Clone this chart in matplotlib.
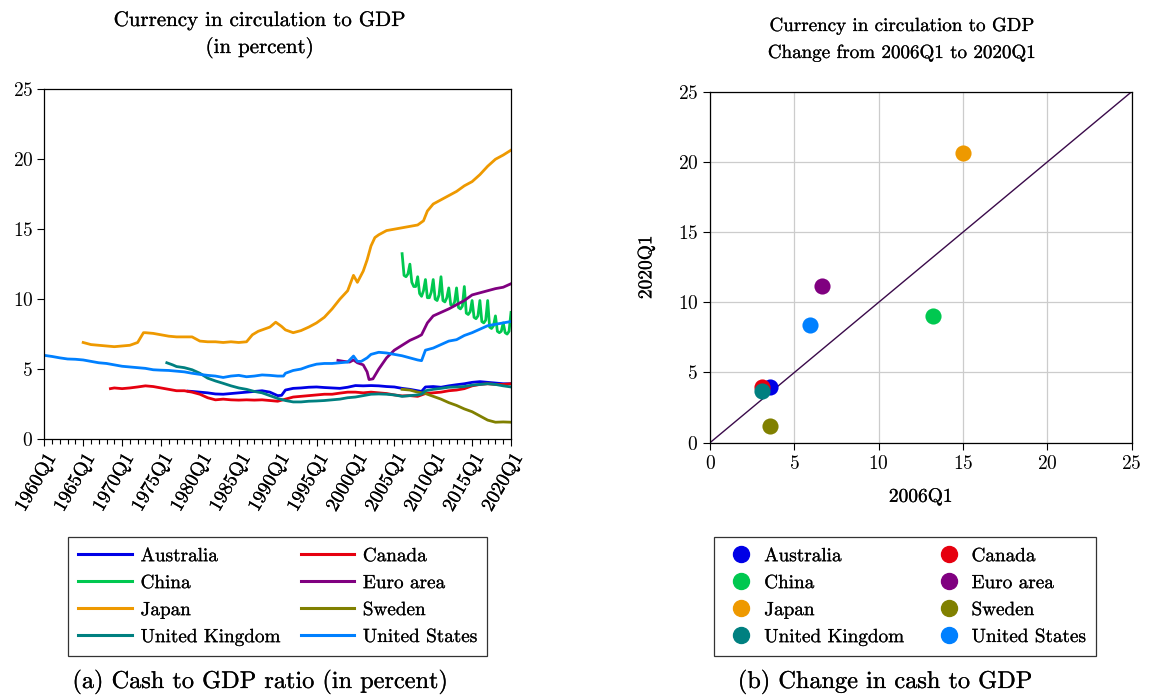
import matplotlib
matplotlib.use("Agg")
import matplotlib.pyplot as plt
from matplotlib.lines import Line2D
import matplotlib.patheffects as pe
import numpy as np

plt.rcParams['font.family'] = ['cmr10', 'DejaVu Serif']
plt.rcParams['mathtext.fontset'] = 'cm'
plt.rcParams['axes.formatter.use_mathtext'] = True
plt.rcParams['axes.unicode_minus'] = False

# ---------------- data ----------------
countries = ["Australia", "Canada", "China", "Euro area", "Japan", "Sweden",
             "United Kingdom", "United States"]
colors = ["#0000E6", "#E6000F", "#00C850", "#800080", "#EE9900", "#808000",
          "#008080", "#0080FF"]

aus_t = [1978.5, 1979, 1980, 1981, 1982, 1983, 1984, 1985, 1986, 1987, 1988, 1989, 1990,
         1990.5, 1991, 1992, 1993, 1994, 1995, 1996, 1997, 1998, 1999, 2000, 2001, 2002,
         2003, 2004, 2005, 2006, 2007, 2008, 2008.5, 2009, 2010, 2011, 2012, 2013, 2014,
         2015, 2016, 2017, 2018, 2019, 2020]
aus_v = [3.42, 3.4, 3.35, 3.3, 3.22, 3.2, 3.25, 3.3, 3.35, 3.4, 3.45, 3.35, 3.1,
         3.12, 3.5, 3.62, 3.65, 3.7, 3.72, 3.68, 3.65, 3.62, 3.7, 3.82, 3.8, 3.82,
         3.8, 3.75, 3.72, 3.62, 3.55, 3.45, 3.4, 3.72, 3.75, 3.7, 3.8, 3.88, 3.95,
         4.05, 4.1, 4.05, 4.0, 3.95, 3.95]

can_t = [1968.5, 1969, 1970, 1971, 1972, 1973, 1974, 1975, 1976, 1977, 1978, 1979, 1980,
         1981, 1982, 1983, 1984, 1985, 1986, 1987, 1988, 1989, 1990, 1991, 1992, 1993,
         1994, 1995, 1996, 1997, 1998, 1999, 2000, 2001, 2002, 2003, 2004, 2005, 2006,
         2007, 2008, 2009, 2010, 2011, 2012, 2013, 2014, 2015, 2016, 2017, 2018, 2019, 2020]
can_v = [3.6, 3.65, 3.6, 3.65, 3.72, 3.8, 3.75, 3.65, 3.55, 3.45, 3.45, 3.35, 3.2,
         2.95, 2.8, 2.85, 2.8, 2.78, 2.8, 2.78, 2.8, 2.75, 2.7, 2.85, 3.0, 3.05,
         3.1, 3.15, 3.2, 3.2, 3.28, 3.35, 3.35, 3.3, 3.35, 3.3, 3.25, 3.15, 3.08,
         3.1, 3.05, 3.25, 3.3, 3.35, 3.45, 3.5, 3.6, 3.8, 3.9, 3.95, 3.9, 3.9, 3.95]

chn_t = [2006.0, 2006.25, 2006.5, 2006.75, 2007.0, 2007.25, 2007.5, 2007.75,
         2008.0, 2008.25, 2008.5, 2008.75, 2009.0, 2009.25, 2009.5, 2009.75,
         2010.0, 2010.25, 2010.5, 2010.75, 2011.0, 2011.25, 2011.5, 2011.75,
         2012.0, 2012.25, 2012.5, 2012.75, 2013.0, 2013.25, 2013.5, 2013.75,
         2014.0, 2014.25, 2014.5, 2014.75, 2015.0, 2015.25, 2015.5, 2015.75,
         2016.0, 2016.25, 2016.5, 2016.75, 2017.0, 2017.25, 2017.5, 2017.75,
         2018.0, 2018.25, 2018.5, 2018.75, 2019.0, 2019.25, 2019.5, 2019.75, 2020.0]
chn_v = [13.25, 11.7, 11.6, 11.8, 12.5, 11.2, 10.9, 10.9,
         11.6, 10.4, 10.2, 10.6, 11.4, 10.1, 10.1, 10.5,
         11.4, 10.0, 9.9, 10.3, 11.6, 9.9, 9.8, 10.1,
         10.8, 9.6, 9.5, 9.8, 10.8, 9.4, 9.3, 9.5,
         10.9, 9.0, 8.9, 9.1, 9.9, 8.7, 8.6, 8.8,
         9.9, 8.4, 8.3, 8.5, 9.9, 8.0, 7.9, 8.1,
         8.8, 7.7, 7.6, 7.7, 8.3, 7.6, 7.5, 7.7, 9.05]

eur_t = [1997.75, 1998.5, 1999.25, 1999.75, 2000.25, 2001, 2001.5, 2001.75, 2002.25,
         2003, 2004, 2005, 2006, 2007, 2008, 2008.5, 2009.25, 2010, 2011, 2012, 2013,
         2014, 2015, 2016, 2017, 2018, 2019, 2020]
eur_v = [5.62, 5.55, 5.5, 5.65, 5.45, 5.3, 4.8, 4.25, 4.3,
         5.0, 5.8, 6.35, 6.7, 7.05, 7.3, 7.45, 8.3, 8.8, 9.05, 9.3, 9.6,
         9.9, 10.3, 10.45, 10.6, 10.75, 10.85, 11.1]

jpn_t = [1965, 1966, 1967, 1968, 1969, 1970, 1971, 1972, 1972.75, 1973, 1974, 1975,
         1976, 1977, 1978, 1979, 1980, 1981, 1982, 1983, 1984, 1985, 1986, 1986.75,
         1987.5, 1988, 1989, 1989.75, 1990.5, 1991, 1992, 1993, 1994, 1995, 1996, 1997,
         1998, 1999, 1999.75, 2000.25, 2001, 2001.5, 2002, 2002.5, 2003, 2004, 2005,
         2006, 2007, 2008, 2008.75, 2009.25, 2010, 2011, 2012, 2013, 2014, 2015, 2016,
         2017, 2018, 2019, 2020]
jpn_v = [6.9, 6.75, 6.7, 6.65, 6.6, 6.65, 6.7, 6.9, 7.6, 7.6, 7.55, 7.45,
         7.35, 7.3, 7.3, 7.3, 7.0, 6.95, 6.95, 6.9, 6.95, 6.9, 6.95, 7.45,
         7.7, 7.8, 8.0, 8.35, 8.05, 7.8, 7.6, 7.75, 8.0, 8.3, 8.7, 9.3,
         10.0, 10.6, 11.7, 11.2, 12.0, 12.8, 13.8, 14.4, 14.6, 14.9, 15.0,
         15.1, 15.2, 15.3, 15.6, 16.3, 16.8, 17.1, 17.4, 17.7, 18.1, 18.4, 18.9,
         19.5, 20.0, 20.3, 20.65]

swe_t = [2006, 2007, 2008, 2009, 2010, 2011, 2012, 2013, 2014, 2015, 2016, 2017,
         2018, 2019, 2020]
swe_v = [3.55, 3.5, 3.35, 3.25, 3.05, 2.85, 2.6, 2.4, 2.15, 1.95, 1.65, 1.35,
         1.2, 1.22, 1.2]

gbr_t = [1975.75, 1976.5, 1977, 1978, 1979, 1980, 1981, 1982, 1983, 1984, 1985, 1986,
         1987, 1988, 1989, 1990, 1991, 1992, 1993, 1994, 1995, 1996, 1997, 1998, 1999,
         2000, 2001, 2002, 2003, 2004, 2005, 2006, 2007, 2008, 2008.5, 2009, 2010, 2011,
         2012, 2013, 2014, 2015, 2016, 2017, 2018, 2019, 2020]
gbr_v = [5.45, 5.3, 5.18, 5.1, 4.95, 4.7, 4.35, 4.15, 3.98, 3.8, 3.65, 3.55,
         3.4, 3.3, 3.1, 2.9, 2.75, 2.65, 2.65, 2.7, 2.72, 2.75, 2.8, 2.85, 2.95,
         3.0, 3.1, 3.2, 3.22, 3.2, 3.15, 3.05, 3.1, 3.15, 3.2, 3.45, 3.55, 3.62,
         3.7, 3.72, 3.75, 3.85, 3.9, 3.95, 3.9, 3.8, 3.72]

usa_t = [1960, 1961, 1962, 1963, 1964, 1965, 1966, 1967, 1968, 1969, 1970, 1971, 1972,
         1973, 1974, 1975, 1976, 1977, 1978, 1979, 1980, 1981, 1982, 1983, 1984, 1985,
         1986, 1987, 1988, 1989, 1990, 1990.75, 1991, 1992, 1993, 1994, 1995, 1996,
         1997, 1998, 1999, 1999.75, 2000.25, 2000.75, 2001.5, 2002, 2003, 2004, 2005,
         2006, 2007, 2008, 2008.5, 2009, 2010, 2011, 2012, 2013, 2014, 2015, 2016,
         2017, 2018, 2019, 2020]
usa_v = [5.98, 5.9, 5.8, 5.72, 5.7, 5.65, 5.55, 5.45, 5.4, 5.3, 5.2, 5.15, 5.1,
         5.05, 4.95, 4.92, 4.9, 4.85, 4.8, 4.7, 4.62, 4.55, 4.5, 4.4, 4.5, 4.55,
         4.45, 4.5, 4.58, 4.55, 4.5, 4.5, 4.7, 4.9, 5.0, 5.2, 5.35, 5.4,
         5.4, 5.45, 5.5, 5.93, 5.55, 5.55, 5.8, 6.05, 6.2, 6.15, 6.05,
         5.95, 5.8, 5.65, 5.6, 6.35, 6.5, 6.75, 7.0, 7.1, 7.4, 7.6, 7.85,
         8.1, 8.2, 8.3, 8.4]

series_t = [aus_t, can_t, chn_t, eur_t, jpn_t, swe_t, gbr_t, usa_t]
series_v = [aus_v, can_v, chn_v, eur_v, jpn_v, swe_v, gbr_v, usa_v]

# scatter: 2006Q1 vs 2020Q1
val_2006 = [3.56, 3.06, 13.24, 6.66, 15.02, 3.54, 3.06, 5.93]
val_2020 = [3.99, 3.98, 9.05, 11.13, 20.65, 1.21, 3.70, 8.40]

major_years = list(range(1960, 2021, 5))
major_labels = [f"{y}Q1" for y in major_years]
minor_years = list(range(1960, 2021, 1))

# ---------------- figure ----------------
W, H = 1149, 698
fig = plt.figure(figsize=(W / 100, H / 100), dpi=100)

def fx(px):
    return px / W

def fy(py):
    return 1 - py / H

ax1 = fig.add_axes([fx(44.3), fy(439), fx(511 - 44.3), (439 - 89.3) / H])
ax2 = fig.add_axes([fx(710), fy(442.7), fx(1131.7 - 710), (442.7 - 91.7) / H])

tick_fs = 14
for t, v, c, n in zip(series_t, series_v, colors, countries):
    ax1.plot(t, v, color=c, lw=2.0, label=n, solid_joinstyle='round')
ax1.set_xlim(1960, 2020)
ax1.set_ylim(0, 25)
ax1.set_yticks([0, 5, 10, 15, 20, 25])
ax1.set_xticks(major_years)
ax1.set_xticklabels(major_labels, rotation=60, ha='right', rotation_mode='anchor')
ax1.set_xticks(minor_years, minor=True)
ax1.tick_params(axis='both', which='major', labelsize=tick_fs, direction='out',
                length=5, width=0.8, pad=3)
ax1.tick_params(axis='x', which='minor', direction='out', length=3.5, width=0.8)
for s in ax1.spines.values():
    s.set_linewidth(0.9)

# scatter panel
ax2.plot([0, 25], [0, 25], color="#3A0A4A", lw=1.0, zorder=2)
for x, y, c in zip(val_2006, val_2020, colors):
    ax2.scatter(x, y, s=135, color=c, zorder=3, linewidths=0)
ax2.set_xlim(0, 25)
ax2.set_ylim(0, 25)
ax2.set_xticks([0, 5, 10, 15, 20, 25])
ax2.set_yticks([0, 5, 10, 15, 20, 25])
ax2.grid(True, color="#CCCCCC", lw=0.9)
ax2.set_axisbelow(True)
ax2.tick_params(axis='both', labelsize=tick_fs, direction='out', length=5, width=0.8)
for s in ax2.spines.values():
    s.set_linewidth(0.9)
ax2.set_xlabel("2006Q1", fontsize=tick_fs, labelpad=11)
ax2.set_ylabel("2020Q1", fontsize=tick_fs, labelpad=16)

# titles
fig.text(fx(259.5), fy(26), "Currency in circulation to GDP", ha='center',
         va='baseline', fontsize=15.1)
fig.text(fx(259.5), fy(53), "(in percent)", ha='center', va='baseline', fontsize=15.1)
fig.text(fx(902), fy(31), "Currency in circulation to GDP", ha='center',
         va='baseline', fontsize=13.7)
fig.text(fx(902), fy(58), "Change from 2006Q1 to 2020Q1", ha='center',
         va='baseline', fontsize=13.7)

# legends (row-major order)
order = [0, 2, 4, 6, 1, 3, 5, 7]
line_handles = [Line2D([], [], color=colors[i], lw=2.2) for i in order]
dot_handles = [Line2D([], [], color=colors[i], marker='o', ls='none', markersize=11.5)
               for i in order]
labels = [countries[i] for i in order]

leg_kw = dict(ncol=2, loc='upper left', mode='expand', fontsize=13.8, frameon=True,
              fancybox=False, edgecolor='black', borderaxespad=0, labelspacing=0.47,
              borderpad=0.52, columnspacing=1.0)
l1 = fig.legend(line_handles, labels,
                bbox_to_anchor=(fx(68.3), fy(652.7), fx(487.3 - 68.3), (652.7 - 537.3) / H),
                handlelength=2.8, handletextpad=0.45, **leg_kw)
l1.get_frame().set_linewidth(0.9)
l2 = fig.legend(dot_handles, labels,
                bbox_to_anchor=(fx(714), fy(652.7), fx(1096 - 714), (652.7 - 537.3) / H),
                handlelength=1.8, handletextpad=0.3, **leg_kw)
l2.get_frame().set_linewidth(0.9)

# captions
fig.text(fx(260), fy(688), "(a) Cash to GDP ratio (in percent)", ha='center',
         va='baseline', fontsize=17.5)
fig.text(fx(885), fy(688), "(b) Change in cash to GDP", ha='center',
         va='baseline', fontsize=17.5)

# slightly heavier text to mimic the LaTeX rendering
stroke = [pe.withStroke(linewidth=0.15, foreground='black')]
for t in fig.findobj(matplotlib.text.Text):
    if t.get_text():
        t.set_path_effects(stroke)

fig.savefig("out.png", dpi=100)
